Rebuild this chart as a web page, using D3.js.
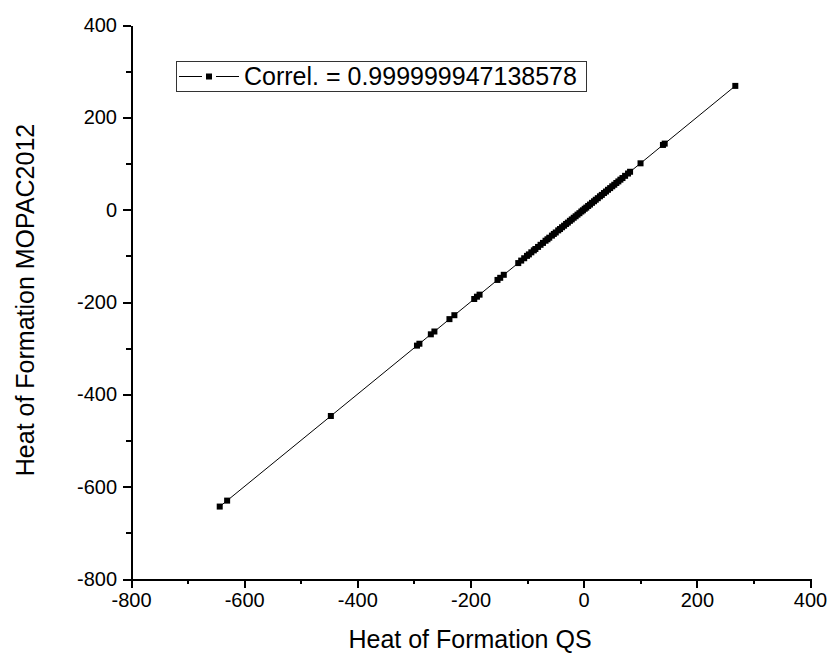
<!DOCTYPE html>
<html>
<head>
<meta charset="utf-8">
<script src="https://cdn.jsdelivr.net/npm/d3@7"></script>
<style>
  body { margin: 0; background: #fff; }
  svg { display: block; font-family: "Liberation Sans", Arial, sans-serif; }
  .axis path, .axis line { stroke: #000; stroke-width: 2px; shape-rendering: crispEdges; }
  .axis text { font-size: 20px; fill: #000; font-family: "Liberation Sans", Arial, sans-serif; }
</style>
</head>
<body>
<div id="canvas"></div>
<script>
// heat of formation, QS vs MOPAC2012 (kcal/mol)
var qsValues = [-643.2, -630.1, -446.8, -294.6, -290.3, -270.1, -263.8, -237.2, -228.5,
  -193.4, -188.6, -184.0, -152.3, -147.5, -141.2, -115.6, -110.4, -105.1, -100.2, -96.8,
  -92.5, -88.1, -85.3, -80.6, -76.2, -71.9, -67.4, -64.0, -60.8, -56.1, -52.7, -49.3,
  -45.0, -41.8, -38.2, -34.6, -31.1, -27.9, -24.3, -21.0, -17.6, -14.2, -10.9, -7.5,
  -4.1, -1.3, 1.8, 4.6, 7.9, 11.2, 14.7, 18.3, 21.4, 25.0, 28.8, 32.1, 35.9, 39.4,
  43.0, 46.8, 50.5, 54.1, 57.7, 61.3, 64.9, 68.6, 73.2, 78.4, 82.0, 100.5, 140.1, 143.2, 268.0];
var mopacValues = [-643.1, -630.2, -446.9, -294.5, -290.4, -270.0, -263.9, -237.1, -228.6,
  -193.5, -188.5, -184.1, -152.2, -147.6, -141.1, -115.7, -110.3, -105.2, -100.1, -96.9,
  -92.4, -88.2, -85.2, -80.7, -76.1, -72.0, -67.3, -64.1, -60.7, -56.2, -52.6, -49.4,
  -44.9, -41.9, -38.1, -34.7, -31.0, -28.0, -24.2, -21.1, -17.5, -14.3, -10.8, -7.6,
  -4.0, -1.4, 1.9, 4.5, 8.0, 11.1, 14.8, 18.2, 21.5, 24.9, 28.9, 32.0, 36.0, 39.3,
  43.1, 46.7, 50.6, 54.0, 57.8, 61.2, 65.0, 68.5, 73.3, 78.3, 82.1, 100.4, 140.2, 143.1, 268.1];
var majorTicks = [-800, -600, -400, -200, 0, 200, 400];
var minorTicks = [-700, -500, -300, -100, 100, 300];
var legendLabel = 'Correl. = 0.999999947138578';
var xTitle = 'Heat of Formation QS';
var yTitle = 'Heat of Formation MOPAC2012';

var outerWidth = 828, outerHeight = 655;
var m = {t:25, r:18, b:76, l:131};

var svg = d3.select('#canvas')
    .append('svg')
    .attr('width', outerWidth)
    .attr('height', outerHeight);

var scaleX = d3.scaleLinear().domain([-800, 400]).range([m.l, outerWidth - m.r]);
var scaleY = d3.scaleLinear().domain([-800, 400]).range([outerHeight - m.b, m.t]);

var rows = qsValues.map(function(d, i){ return {x: d, y: mopacValues[i]}; });

// plain hyphen for negatives, like the original
var fmt = function(d){ return String(d); };

// minor ticks first, then major with labels
svg.append('g')
    .attr('class', 'axis')
    .attr('transform', 'translate(0,' + scaleY(-800) + ')')
    .call(d3.axisBottom(scaleX).tickValues(minorTicks).tickSize(5).tickSizeOuter(0).tickFormat(''));
svg.append('g')
    .attr('class', 'axis')
    .attr('transform', 'translate(' + scaleX(-800) + ',0)')
    .call(d3.axisLeft(scaleY).tickValues(minorTicks).tickSize(5).tickSizeOuter(0).tickFormat(''));

svg.append('g')
    .attr('class', 'axis axis-x')
    .attr('transform', 'translate(0,' + scaleY(-800) + ')')
    .call(d3.axisBottom(scaleX).tickValues(majorTicks).tickSize(9).tickSizeOuter(0).tickPadding(5).tickFormat(fmt));
svg.append('g')
    .attr('class', 'axis axis-y')
    .attr('transform', 'translate(' + scaleX(-800) + ',0)')
    .call(d3.axisLeft(scaleY).tickValues(majorTicks).tickSize(8).tickSizeOuter(0).tickPadding(6).tickFormat(fmt));

// the series: thin line with square markers
var line = d3.line()
    .x(function(d){ return scaleX(d.x); })
    .y(function(d){ return scaleY(d.y); });

svg.append('path')
    .datum(rows)
    .attr('d', line)
    .attr('fill', 'none')
    .attr('stroke', '#000')
    .attr('stroke-width', 1);

var sz = 6;
svg.selectAll('.pt')
    .data(rows)
    .enter()
    .append('rect')
    .attr('class', 'pt')
    .attr('x', function(d){ return scaleX(d.x) - sz/2; })
    .attr('y', function(d){ return scaleY(d.y) - sz/2; })
    .attr('width', sz)
    .attr('height', sz)
    .attr('fill', '#000');

// axis titles
svg.append('text')
    .attr('x', 470)
    .attr('y', 648)
    .attr('text-anchor', 'middle')
    .style('font-size', '25px')
    .text(xTitle);

svg.append('text')
    .attr('transform', 'translate(34,300) rotate(-90)')
    .attr('text-anchor', 'middle')
    .style('font-size', '25px')
    .text(yTitle);

// legend
var lg = svg.append('g').attr('transform', 'translate(176,61)');
lg.append('rect')
    .attr('x', 0.5).attr('y', 0.5)
    .attr('width', 410).attr('height', 30)
    .attr('fill', '#fff')
    .attr('stroke', '#333')
    .attr('stroke-width', 1);
lg.append('line').attr('x1', 3).attr('x2', 26).attr('y1', 15.5).attr('y2', 15.5).attr('stroke', '#000');
lg.append('line').attr('x1', 40).attr('x2', 63).attr('y1', 15.5).attr('y2', 15.5).attr('stroke', '#000');
lg.append('rect').attr('x', 30).attr('y', 12.5).attr('width', 6).attr('height', 6).attr('fill', '#000');
lg.append('text')
    .attr('x', 68)
    .attr('y', 24)
    .style('font-size', '25px')
    .text(legendLabel);
</script>
</body>
</html>
